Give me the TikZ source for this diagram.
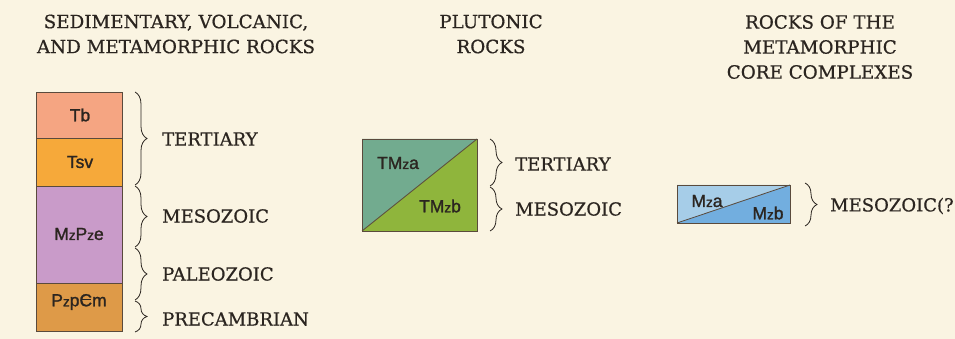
\documentclass[tikz,border=0pt]{standalone}
\usepackage{fontspec}
\setmainfont[FakeBold=0.6]{DejaVu Serif}
\newfontfamily\unitfont[FakeBold=1.4]{Liberation Sans}
\usetikzlibrary{decorations.pathreplacing}

\definecolor{paper}{HTML}{FAF4E2}
\definecolor{ink}{HTML}{2B2520}
\definecolor{edge}{HTML}{5A4A3C}
\definecolor{tbcol}{HTML}{F5A582}
\definecolor{tsvcol}{HTML}{F6A93A}
\definecolor{mzpzcol}{HTML}{C99BC9}
\definecolor{pzpcol}{HTML}{DE9A48}
\definecolor{tmzacol}{HTML}{72AB8F}
\definecolor{tmzbcol}{HTML}{8FB53C}
\definecolor{mzacol}{HTML}{A6CDE8}
\definecolor{mzbcol}{HTML}{72AEDF}

% small "z" of the era symbols (Mz, Pz)
\newcommand{\lowz}{{\fontsize{13.5pt}{13.5pt}\selectfont z}}
% Cambrian sign: C with a bar
\newcommand{\cambr}{\ooalign{C\cr\hidewidth\rule[0.34em]{0.55em}{0.08em}\hidewidth\cr}}

\tikzset{
  heading/.style={font=\fontsize{18.3pt}{25pt}\selectfont, text=ink, align=center, inner sep=0pt},
  agelabel/.style={font=\fontsize{18pt}{20pt}\selectfont, text=ink, anchor=west, inner sep=0pt},
  unitlabel/.style={font=\unitfont\fontsize{17.5pt}{17.5pt}\selectfont, text=ink, inner sep=0pt},
  boxedge/.style={draw=edge, line width=0.8pt},
  agebrace/.style={draw=ink, line width=0.8pt, decorate, decoration={brace, amplitude=12pt}},
}

\begin{document}
\begin{tikzpicture}[x=1pt, y=-1pt]
  \useasboundingbox (0,0) rectangle (955,339);
  \fill[paper] (0,0) rectangle (955,339);

  % column headings
  \node[heading] (h1) at (176,34) {SEDIMENTARY, VOLCANIC,\\AND METAMORPHIC ROCKS};
  \node[heading] (h2) at (491,34) {PLUTONIC\\ROCKS};
  \node[heading] (h3) at (820,47) {ROCKS OF THE\\METAMORPHIC\\CORE COMPLEXES};

  % stratified column
  \fill[tbcol]   (36,92)  rectangle (122,138);
  \fill[tsvcol]  (36,138) rectangle (122,186);
  \fill[mzpzcol] (36,186) rectangle (122,283);
  \fill[pzpcol]  (36,283) rectangle (122,331);
  \draw[boxedge] (36,92) rectangle (122,331);
  \draw[boxedge] (36,138) -- (122,138);
  \draw[boxedge] (36,186) -- (122,186);
  \draw[boxedge] (36,283) -- (122,283);
  \node[unitlabel] (tb)   at (80,115) {Tb};
  \node[unitlabel] (tsv)  at (80,162) {Tsv};
  \node[unitlabel] (mzpz) at (79,234) {M\lowz P\lowz e};
  \node[unitlabel] (pzp)  at (79,302) {P\lowz p\cambr m};

  \draw[agebrace] (135,92)  -- (135,185);
  \draw[agebrace] (135,186) -- (135,247);
  \draw[agebrace] (135,248) -- (135,300);
  \draw[agebrace] (135,301) -- (135,332);
  \node[agelabel] (a1) at (162,139) {TERTIARY};
  \node[agelabel] (a2) at (162,216) {MESOZOIC};
  \node[agelabel] (a3) at (162,274) {PALEOZOIC};
  \node[agelabel] (a4) at (162,319) {PRECAMBRIAN};

  % plutonic rocks
  \fill[tmzacol] (362,231) -- (362,139) -- (477,139) -- cycle;
  \fill[tmzbcol] (362,231) -- (477,231) -- (477,139) -- cycle;
  \draw[boxedge] (362,139) rectangle (477,231);
  \draw[edge, line width=0.8pt] (362,231) -- (477,139);
  \node[unitlabel] (tmza) at (398,163) {TM\lowz a};
  \node[unitlabel] (tmzb) at (440,206) {TM\lowz b};
  \draw[agebrace] (490,139) -- (490,186);
  \draw[agebrace] (490,187) -- (490,231);
  \node[agelabel] (p1) at (515,164) {TERTIARY};
  \node[agelabel] (p2) at (515,209) {MESOZOIC};

  % metamorphic core complexes
  \fill[mzacol] (677,223) -- (677,185) -- (790,185) -- cycle;
  \fill[mzbcol] (677,223) -- (790,223) -- (790,185) -- cycle;
  \draw[boxedge] (677,185) rectangle (790,223);
  \draw[edge, line width=0.8pt] (677,223) -- (790,185);
  \node[unitlabel] (mza) at (707,201) {M\lowz a};
  \node[unitlabel] (mzb) at (768,213) {M\lowz b};
  \draw[agebrace] (805,183) -- (805,226);
  \node[agelabel] (c1) at (830,206) {MESOZOIC(?};
\end{tikzpicture}
\end{document}
